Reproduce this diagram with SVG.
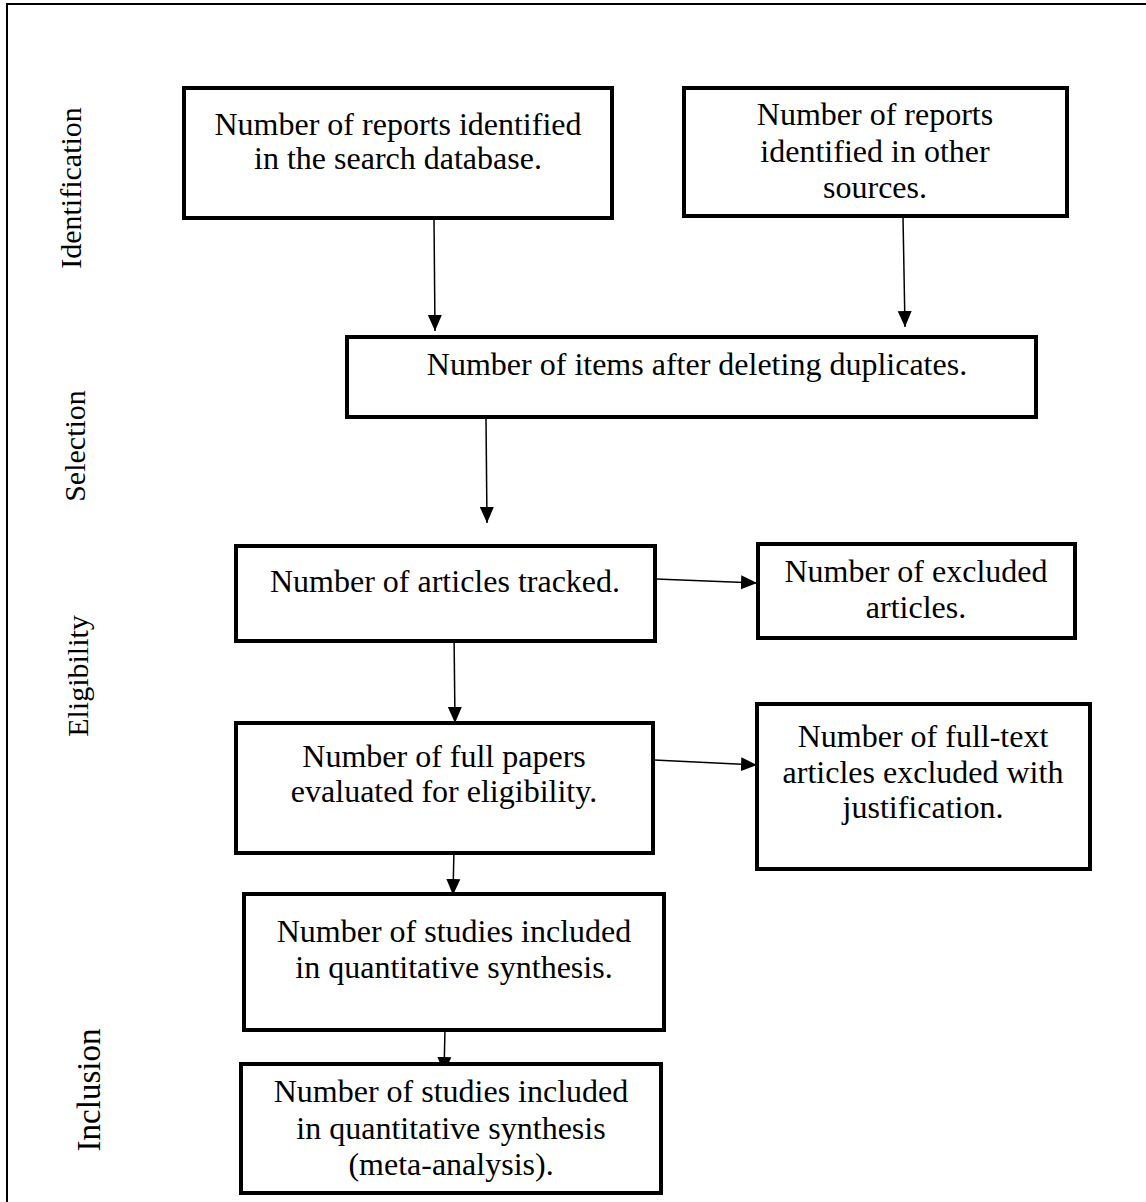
<svg xmlns="http://www.w3.org/2000/svg" width="1146" height="1202" viewBox="0 0 1146 1202">
<defs>
<marker id="ah" markerUnits="userSpaceOnUse" markerWidth="16" markerHeight="16" viewBox="0 0 16 16" refX="16" refY="8" orient="auto">
<path d="M0,1 L16,8 L0,15 Z" fill="#000"/>
</marker>
<style>
.box{fill:#fff;stroke:#000;stroke-width:4}
.t{font-family:"Liberation Serif","Times New Roman",serif;font-size:32px;fill:#000;text-anchor:middle}
.side{font-family:"Liberation Serif","Times New Roman",serif;font-size:30px;fill:#000;text-anchor:middle}
.c{stroke:#000;stroke-width:1.5;fill:none;marker-end:url(#ah)}
</style>
</defs>
<rect width="1146" height="1202" fill="#fff"/>
<path d="M7,1202 V4 H1146" fill="none" stroke="#000" stroke-width="2"/>
<g id="labels">
<text class="side" transform="translate(81,188) rotate(-90)">Identification</text>
<text class="side" transform="translate(85,446) rotate(-90)">Selection</text>
<text class="side" transform="translate(88,676) rotate(-90)">Eligibility</text>
<text class="side" style="font-size:33px" transform="translate(100,1090) rotate(-90)">Inclusion</text>
</g>
<g id="connectors">
<line class="c" x1="434" y1="219" x2="435" y2="331"/>
<line class="c" x1="903" y1="217" x2="905" y2="327"/>
<line class="c" x1="486" y1="419" x2="487" y2="523"/>
<line class="c" x1="656" y1="579" x2="757" y2="583"/>
<line class="c" x1="454" y1="632" x2="455" y2="723"/>
<line class="c" x1="654" y1="760" x2="757" y2="765"/>
<line class="c" x1="454" y1="848" x2="453" y2="895"/>
<line class="c" x1="445" y1="1029" x2="444" y2="1073"/>
</g>
<g id="nodeA"><rect class="box" x="184" y="88" width="428" height="130"/>
<text class="t" x="398" y="135">Number of reports identified</text>
<text class="t" x="398" y="169">in the search database.</text></g>
<g id="nodeB"><rect class="box" x="684" y="88" width="383" height="128"/>
<text class="t" x="875" y="125">Number of reports</text>
<text class="t" x="875" y="162">identified in other</text>
<text class="t" x="875" y="198">sources.</text></g>
<g id="nodeC"><rect class="box" x="347" y="337" width="689" height="80"/>
<text class="t" x="697" y="375">Number of items after deleting duplicates.</text></g>
<g id="nodeD"><rect class="box" x="236" y="546" width="419" height="95"/>
<text class="t" x="445" y="592">Number of articles tracked.</text></g>
<g id="nodeE"><rect class="box" x="758" y="544" width="317" height="94"/>
<text class="t" x="916" y="582">Number of excluded</text>
<text class="t" x="916" y="618">articles.</text></g>
<g id="nodeF"><rect class="box" x="236" y="723" width="417" height="130"/>
<text class="t" x="444" y="767">Number of full papers</text>
<text class="t" x="444" y="802">evaluated for eligibility.</text></g>
<g id="nodeG"><rect class="box" x="757" y="704" width="333" height="165"/>
<text class="t" x="923" y="747">Number of full-text</text>
<text class="t" x="923" y="783">articles excluded with</text>
<text class="t" x="923" y="818">justification.</text></g>
<g id="nodeH"><rect class="box" x="244" y="894" width="420" height="136"/>
<text class="t" x="454" y="942">Number of studies included</text>
<text class="t" x="454" y="978">in quantitative synthesis.</text></g>
<g id="nodeI"><rect class="box" x="241" y="1064" width="420" height="129"/>
<text class="t" x="451" y="1102">Number of studies included</text>
<text class="t" x="451" y="1139">in quantitative synthesis</text>
<text class="t" x="451" y="1175">(meta-analysis).</text></g>
</svg>
